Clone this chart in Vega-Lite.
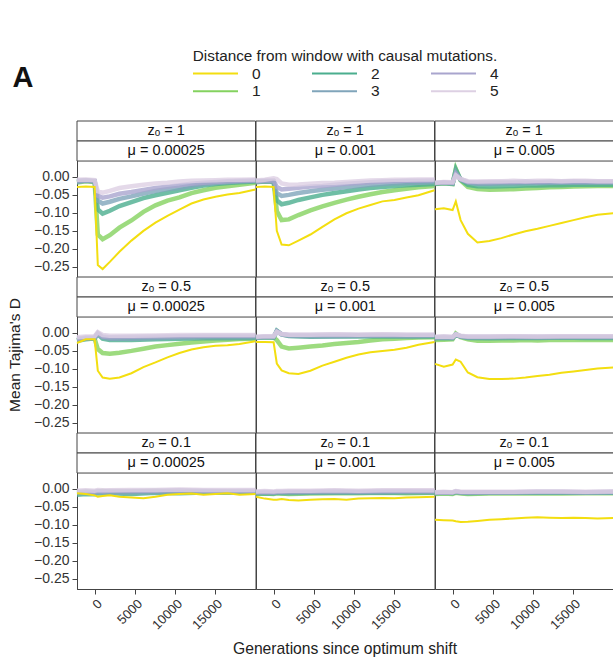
{
"$schema":"https://vega.github.io/schema/vega-lite/v6.json",
"padding":{"left":7,"top":49,"right":0,"bottom":0},
"bounds":"flush",
"title":{"text":"A","anchor":"start","frame":"bounds","fontSize":29,"fontWeight":"bold","font":"Liberation Sans","color":"#111","offset":4,"dy":48,"dx":5},
"data":{"values":[
{"z":1,"u":0.00025,"d":0,"g":-2300,"t":-0.028},{"z":1,"u":0.00025,"d":0,"g":-1200,"t":-0.027},{"z":1,"u":0.00025,"d":0,"g":-100,"t":-0.028},{"z":1,"u":0.00025,"d":0,"g":300,"t":-0.245},{"z":1,"u":0.00025,"d":0,"g":900,"t":-0.256},{"z":1,"u":0.00025,"d":0,"g":1800,"t":-0.236},{"z":1,"u":0.00025,"d":0,"g":3000,"t":-0.208},{"z":1,"u":0.00025,"d":0,"g":4500,"t":-0.177},{"z":1,"u":0.00025,"d":0,"g":6000,"t":-0.150},{"z":1,"u":0.00025,"d":0,"g":7500,"t":-0.127},{"z":1,"u":0.00025,"d":0,"g":9000,"t":-0.108},{"z":1,"u":0.00025,"d":0,"g":10500,"t":-0.091},{"z":1,"u":0.00025,"d":0,"g":12000,"t":-0.074},{"z":1,"u":0.00025,"d":0,"g":13500,"t":-0.063},{"z":1,"u":0.00025,"d":0,"g":15000,"t":-0.055},{"z":1,"u":0.00025,"d":0,"g":16500,"t":-0.049},{"z":1,"u":0.00025,"d":0,"g":18000,"t":-0.045},{"z":1,"u":0.00025,"d":0,"g":20000,"t":-0.035},
{"z":1,"u":0.00025,"d":1,"g":-2300,"t":-0.016},{"z":1,"u":0.00025,"d":1,"g":-1200,"t":-0.012},{"z":1,"u":0.00025,"d":1,"g":-100,"t":-0.014},{"z":1,"u":0.00025,"d":1,"g":300,"t":-0.160},{"z":1,"u":0.00025,"d":1,"g":900,"t":-0.173},{"z":1,"u":0.00025,"d":1,"g":1800,"t":-0.162},{"z":1,"u":0.00025,"d":1,"g":3000,"t":-0.141},{"z":1,"u":0.00025,"d":1,"g":4500,"t":-0.121},{"z":1,"u":0.00025,"d":1,"g":6000,"t":-0.097},{"z":1,"u":0.00025,"d":1,"g":7500,"t":-0.079},{"z":1,"u":0.00025,"d":1,"g":9000,"t":-0.066},{"z":1,"u":0.00025,"d":1,"g":10500,"t":-0.057},{"z":1,"u":0.00025,"d":1,"g":12000,"t":-0.045},{"z":1,"u":0.00025,"d":1,"g":13500,"t":-0.037},{"z":1,"u":0.00025,"d":1,"g":15000,"t":-0.030},{"z":1,"u":0.00025,"d":1,"g":16500,"t":-0.026},{"z":1,"u":0.00025,"d":1,"g":18000,"t":-0.022},{"z":1,"u":0.00025,"d":1,"g":20000,"t":-0.016},
{"z":1,"u":0.00025,"d":2,"g":-2300,"t":-0.013},{"z":1,"u":0.00025,"d":2,"g":-1200,"t":-0.010},{"z":1,"u":0.00025,"d":2,"g":-100,"t":-0.013},{"z":1,"u":0.00025,"d":2,"g":300,"t":-0.090},{"z":1,"u":0.00025,"d":2,"g":900,"t":-0.102},{"z":1,"u":0.00025,"d":2,"g":1800,"t":-0.094},{"z":1,"u":0.00025,"d":2,"g":3000,"t":-0.081},{"z":1,"u":0.00025,"d":2,"g":4500,"t":-0.070},{"z":1,"u":0.00025,"d":2,"g":6000,"t":-0.059},{"z":1,"u":0.00025,"d":2,"g":7500,"t":-0.051},{"z":1,"u":0.00025,"d":2,"g":9000,"t":-0.044},{"z":1,"u":0.00025,"d":2,"g":10500,"t":-0.037},{"z":1,"u":0.00025,"d":2,"g":12000,"t":-0.030},{"z":1,"u":0.00025,"d":2,"g":13500,"t":-0.024},{"z":1,"u":0.00025,"d":2,"g":15000,"t":-0.020},{"z":1,"u":0.00025,"d":2,"g":16500,"t":-0.017},{"z":1,"u":0.00025,"d":2,"g":18000,"t":-0.015},{"z":1,"u":0.00025,"d":2,"g":20000,"t":-0.013},
{"z":1,"u":0.00025,"d":3,"g":-2300,"t":-0.014},{"z":1,"u":0.00025,"d":3,"g":-1200,"t":-0.011},{"z":1,"u":0.00025,"d":3,"g":-100,"t":-0.012},{"z":1,"u":0.00025,"d":3,"g":300,"t":-0.066},{"z":1,"u":0.00025,"d":3,"g":900,"t":-0.074},{"z":1,"u":0.00025,"d":3,"g":1800,"t":-0.069},{"z":1,"u":0.00025,"d":3,"g":3000,"t":-0.061},{"z":1,"u":0.00025,"d":3,"g":4500,"t":-0.054},{"z":1,"u":0.00025,"d":3,"g":6000,"t":-0.046},{"z":1,"u":0.00025,"d":3,"g":7500,"t":-0.039},{"z":1,"u":0.00025,"d":3,"g":9000,"t":-0.034},{"z":1,"u":0.00025,"d":3,"g":10500,"t":-0.030},{"z":1,"u":0.00025,"d":3,"g":12000,"t":-0.025},{"z":1,"u":0.00025,"d":3,"g":13500,"t":-0.020},{"z":1,"u":0.00025,"d":3,"g":15000,"t":-0.017},{"z":1,"u":0.00025,"d":3,"g":16500,"t":-0.015},{"z":1,"u":0.00025,"d":3,"g":18000,"t":-0.013},{"z":1,"u":0.00025,"d":3,"g":20000,"t":-0.011},
{"z":1,"u":0.00025,"d":4,"g":-2300,"t":-0.010},{"z":1,"u":0.00025,"d":4,"g":-1200,"t":-0.009},{"z":1,"u":0.00025,"d":4,"g":-100,"t":-0.011},{"z":1,"u":0.00025,"d":4,"g":300,"t":-0.052},{"z":1,"u":0.00025,"d":4,"g":900,"t":-0.058},{"z":1,"u":0.00025,"d":4,"g":1800,"t":-0.054},{"z":1,"u":0.00025,"d":4,"g":3000,"t":-0.047},{"z":1,"u":0.00025,"d":4,"g":4500,"t":-0.042},{"z":1,"u":0.00025,"d":4,"g":6000,"t":-0.036},{"z":1,"u":0.00025,"d":4,"g":7500,"t":-0.031},{"z":1,"u":0.00025,"d":4,"g":9000,"t":-0.027},{"z":1,"u":0.00025,"d":4,"g":10500,"t":-0.023},{"z":1,"u":0.00025,"d":4,"g":12000,"t":-0.019},{"z":1,"u":0.00025,"d":4,"g":13500,"t":-0.016},{"z":1,"u":0.00025,"d":4,"g":15000,"t":-0.014},{"z":1,"u":0.00025,"d":4,"g":16500,"t":-0.012},{"z":1,"u":0.00025,"d":4,"g":18000,"t":-0.011},{"z":1,"u":0.00025,"d":4,"g":20000,"t":-0.010},
{"z":1,"u":0.00025,"d":5,"g":-2300,"t":-0.008},{"z":1,"u":0.00025,"d":5,"g":-1200,"t":-0.007},{"z":1,"u":0.00025,"d":5,"g":-100,"t":-0.009},{"z":1,"u":0.00025,"d":5,"g":300,"t":-0.040},{"z":1,"u":0.00025,"d":5,"g":900,"t":-0.044},{"z":1,"u":0.00025,"d":5,"g":1800,"t":-0.039},{"z":1,"u":0.00025,"d":5,"g":3000,"t":-0.031},{"z":1,"u":0.00025,"d":5,"g":4500,"t":-0.026},{"z":1,"u":0.00025,"d":5,"g":6000,"t":-0.022},{"z":1,"u":0.00025,"d":5,"g":7500,"t":-0.018},{"z":1,"u":0.00025,"d":5,"g":9000,"t":-0.016},{"z":1,"u":0.00025,"d":5,"g":10500,"t":-0.013},{"z":1,"u":0.00025,"d":5,"g":12000,"t":-0.011},{"z":1,"u":0.00025,"d":5,"g":13500,"t":-0.010},{"z":1,"u":0.00025,"d":5,"g":15000,"t":-0.009},{"z":1,"u":0.00025,"d":5,"g":16500,"t":-0.008},{"z":1,"u":0.00025,"d":5,"g":18000,"t":-0.008},{"z":1,"u":0.00025,"d":5,"g":20000,"t":-0.007},
{"z":1,"u":0.001,"d":0,"g":-2300,"t":-0.028},{"z":1,"u":0.001,"d":0,"g":-1200,"t":-0.027},{"z":1,"u":0.001,"d":0,"g":-100,"t":-0.028},{"z":1,"u":0.001,"d":0,"g":300,"t":-0.150},{"z":1,"u":0.001,"d":0,"g":900,"t":-0.188},{"z":1,"u":0.001,"d":0,"g":1800,"t":-0.190},{"z":1,"u":0.001,"d":0,"g":3000,"t":-0.177},{"z":1,"u":0.001,"d":0,"g":4500,"t":-0.160},{"z":1,"u":0.001,"d":0,"g":6000,"t":-0.139},{"z":1,"u":0.001,"d":0,"g":7500,"t":-0.118},{"z":1,"u":0.001,"d":0,"g":9000,"t":-0.101},{"z":1,"u":0.001,"d":0,"g":10500,"t":-0.088},{"z":1,"u":0.001,"d":0,"g":12000,"t":-0.078},{"z":1,"u":0.001,"d":0,"g":13500,"t":-0.068},{"z":1,"u":0.001,"d":0,"g":15000,"t":-0.064},{"z":1,"u":0.001,"d":0,"g":16500,"t":-0.057},{"z":1,"u":0.001,"d":0,"g":18000,"t":-0.051},{"z":1,"u":0.001,"d":0,"g":20000,"t":-0.037},
{"z":1,"u":0.001,"d":1,"g":-2300,"t":-0.015},{"z":1,"u":0.001,"d":1,"g":-1200,"t":-0.013},{"z":1,"u":0.001,"d":1,"g":-100,"t":-0.014},{"z":1,"u":0.001,"d":1,"g":300,"t":-0.095},{"z":1,"u":0.001,"d":1,"g":900,"t":-0.120},{"z":1,"u":0.001,"d":1,"g":1800,"t":-0.118},{"z":1,"u":0.001,"d":1,"g":3000,"t":-0.106},{"z":1,"u":0.001,"d":1,"g":4500,"t":-0.093},{"z":1,"u":0.001,"d":1,"g":6000,"t":-0.082},{"z":1,"u":0.001,"d":1,"g":7500,"t":-0.072},{"z":1,"u":0.001,"d":1,"g":9000,"t":-0.063},{"z":1,"u":0.001,"d":1,"g":10500,"t":-0.055},{"z":1,"u":0.001,"d":1,"g":12000,"t":-0.048},{"z":1,"u":0.001,"d":1,"g":13500,"t":-0.042},{"z":1,"u":0.001,"d":1,"g":15000,"t":-0.037},{"z":1,"u":0.001,"d":1,"g":16500,"t":-0.033},{"z":1,"u":0.001,"d":1,"g":18000,"t":-0.029},{"z":1,"u":0.001,"d":1,"g":20000,"t":-0.025},
{"z":1,"u":0.001,"d":2,"g":-2300,"t":-0.013},{"z":1,"u":0.001,"d":2,"g":-1200,"t":-0.012},{"z":1,"u":0.001,"d":2,"g":-100,"t":-0.013},{"z":1,"u":0.001,"d":2,"g":300,"t":-0.065},{"z":1,"u":0.001,"d":2,"g":900,"t":-0.076},{"z":1,"u":0.001,"d":2,"g":1800,"t":-0.072},{"z":1,"u":0.001,"d":2,"g":3000,"t":-0.064},{"z":1,"u":0.001,"d":2,"g":4500,"t":-0.057},{"z":1,"u":0.001,"d":2,"g":6000,"t":-0.050},{"z":1,"u":0.001,"d":2,"g":7500,"t":-0.045},{"z":1,"u":0.001,"d":2,"g":9000,"t":-0.040},{"z":1,"u":0.001,"d":2,"g":10500,"t":-0.035},{"z":1,"u":0.001,"d":2,"g":12000,"t":-0.031},{"z":1,"u":0.001,"d":2,"g":13500,"t":-0.028},{"z":1,"u":0.001,"d":2,"g":15000,"t":-0.025},{"z":1,"u":0.001,"d":2,"g":16500,"t":-0.023},{"z":1,"u":0.001,"d":2,"g":18000,"t":-0.022},{"z":1,"u":0.001,"d":2,"g":20000,"t":-0.020},
{"z":1,"u":0.001,"d":3,"g":-2300,"t":-0.014},{"z":1,"u":0.001,"d":3,"g":-1200,"t":-0.012},{"z":1,"u":0.001,"d":3,"g":-100,"t":-0.013},{"z":1,"u":0.001,"d":3,"g":300,"t":-0.045},{"z":1,"u":0.001,"d":3,"g":900,"t":-0.053},{"z":1,"u":0.001,"d":3,"g":1800,"t":-0.050},{"z":1,"u":0.001,"d":3,"g":3000,"t":-0.045},{"z":1,"u":0.001,"d":3,"g":4500,"t":-0.040},{"z":1,"u":0.001,"d":3,"g":6000,"t":-0.036},{"z":1,"u":0.001,"d":3,"g":7500,"t":-0.032},{"z":1,"u":0.001,"d":3,"g":9000,"t":-0.028},{"z":1,"u":0.001,"d":3,"g":10500,"t":-0.025},{"z":1,"u":0.001,"d":3,"g":12000,"t":-0.022},{"z":1,"u":0.001,"d":3,"g":13500,"t":-0.020},{"z":1,"u":0.001,"d":3,"g":15000,"t":-0.018},{"z":1,"u":0.001,"d":3,"g":16500,"t":-0.017},{"z":1,"u":0.001,"d":3,"g":18000,"t":-0.016},{"z":1,"u":0.001,"d":3,"g":20000,"t":-0.015},
{"z":1,"u":0.001,"d":4,"g":-2300,"t":-0.012},{"z":1,"u":0.001,"d":4,"g":-1200,"t":-0.010},{"z":1,"u":0.001,"d":4,"g":-100,"t":-0.010},{"z":1,"u":0.001,"d":4,"g":300,"t":-0.028},{"z":1,"u":0.001,"d":4,"g":900,"t":-0.035},{"z":1,"u":0.001,"d":4,"g":1800,"t":-0.033},{"z":1,"u":0.001,"d":4,"g":3000,"t":-0.030},{"z":1,"u":0.001,"d":4,"g":4500,"t":-0.027},{"z":1,"u":0.001,"d":4,"g":6000,"t":-0.025},{"z":1,"u":0.001,"d":4,"g":7500,"t":-0.022},{"z":1,"u":0.001,"d":4,"g":9000,"t":-0.019},{"z":1,"u":0.001,"d":4,"g":10500,"t":-0.017},{"z":1,"u":0.001,"d":4,"g":12000,"t":-0.015},{"z":1,"u":0.001,"d":4,"g":13500,"t":-0.013},{"z":1,"u":0.001,"d":4,"g":15000,"t":-0.012},{"z":1,"u":0.001,"d":4,"g":16500,"t":-0.011},{"z":1,"u":0.001,"d":4,"g":18000,"t":-0.011},{"z":1,"u":0.001,"d":4,"g":20000,"t":-0.010},
{"z":1,"u":0.001,"d":5,"g":-2300,"t":-0.010},{"z":1,"u":0.001,"d":5,"g":-1200,"t":-0.008},{"z":1,"u":0.001,"d":5,"g":-100,"t":-0.004},{"z":1,"u":0.001,"d":5,"g":300,"t":-0.006},{"z":1,"u":0.001,"d":5,"g":900,"t":-0.018},{"z":1,"u":0.001,"d":5,"g":1800,"t":-0.022},{"z":1,"u":0.001,"d":5,"g":3000,"t":-0.021},{"z":1,"u":0.001,"d":5,"g":4500,"t":-0.019},{"z":1,"u":0.001,"d":5,"g":6000,"t":-0.017},{"z":1,"u":0.001,"d":5,"g":7500,"t":-0.016},{"z":1,"u":0.001,"d":5,"g":9000,"t":-0.014},{"z":1,"u":0.001,"d":5,"g":10500,"t":-0.012},{"z":1,"u":0.001,"d":5,"g":12000,"t":-0.010},{"z":1,"u":0.001,"d":5,"g":13500,"t":-0.009},{"z":1,"u":0.001,"d":5,"g":15000,"t":-0.008},{"z":1,"u":0.001,"d":5,"g":16500,"t":-0.008},{"z":1,"u":0.001,"d":5,"g":18000,"t":-0.007},{"z":1,"u":0.001,"d":5,"g":20000,"t":-0.007},
{"z":1,"u":0.005,"d":0,"g":-2300,"t":-0.090},{"z":1,"u":0.005,"d":0,"g":-1200,"t":-0.087},{"z":1,"u":0.005,"d":0,"g":-100,"t":-0.092},{"z":1,"u":0.005,"d":0,"g":300,"t":-0.068},{"z":1,"u":0.005,"d":0,"g":900,"t":-0.120},{"z":1,"u":0.005,"d":0,"g":1800,"t":-0.158},{"z":1,"u":0.005,"d":0,"g":3000,"t":-0.182},{"z":1,"u":0.005,"d":0,"g":4500,"t":-0.178},{"z":1,"u":0.005,"d":0,"g":6000,"t":-0.170},{"z":1,"u":0.005,"d":0,"g":7500,"t":-0.160},{"z":1,"u":0.005,"d":0,"g":9000,"t":-0.151},{"z":1,"u":0.005,"d":0,"g":10500,"t":-0.144},{"z":1,"u":0.005,"d":0,"g":12000,"t":-0.136},{"z":1,"u":0.005,"d":0,"g":13500,"t":-0.128},{"z":1,"u":0.005,"d":0,"g":15000,"t":-0.120},{"z":1,"u":0.005,"d":0,"g":16500,"t":-0.112},{"z":1,"u":0.005,"d":0,"g":18000,"t":-0.105},{"z":1,"u":0.005,"d":0,"g":20000,"t":-0.101},
{"z":1,"u":0.005,"d":1,"g":-2300,"t":-0.020},{"z":1,"u":0.005,"d":1,"g":-1200,"t":-0.018},{"z":1,"u":0.005,"d":1,"g":-100,"t":-0.020},{"z":1,"u":0.005,"d":1,"g":300,"t":0.022},{"z":1,"u":0.005,"d":1,"g":900,"t":-0.010},{"z":1,"u":0.005,"d":1,"g":1800,"t":-0.028},{"z":1,"u":0.005,"d":1,"g":3000,"t":-0.034},{"z":1,"u":0.005,"d":1,"g":4500,"t":-0.036},{"z":1,"u":0.005,"d":1,"g":6000,"t":-0.035},{"z":1,"u":0.005,"d":1,"g":7500,"t":-0.034},{"z":1,"u":0.005,"d":1,"g":9000,"t":-0.032},{"z":1,"u":0.005,"d":1,"g":10500,"t":-0.031},{"z":1,"u":0.005,"d":1,"g":12000,"t":-0.029},{"z":1,"u":0.005,"d":1,"g":13500,"t":-0.028},{"z":1,"u":0.005,"d":1,"g":15000,"t":-0.027},{"z":1,"u":0.005,"d":1,"g":16500,"t":-0.026},{"z":1,"u":0.005,"d":1,"g":18000,"t":-0.025},{"z":1,"u":0.005,"d":1,"g":20000,"t":-0.025},
{"z":1,"u":0.005,"d":2,"g":-2300,"t":-0.019},{"z":1,"u":0.005,"d":2,"g":-1200,"t":-0.017},{"z":1,"u":0.005,"d":2,"g":-100,"t":-0.019},{"z":1,"u":0.005,"d":2,"g":300,"t":0.020},{"z":1,"u":0.005,"d":2,"g":900,"t":-0.008},{"z":1,"u":0.005,"d":2,"g":1800,"t":-0.022},{"z":1,"u":0.005,"d":2,"g":3000,"t":-0.026},{"z":1,"u":0.005,"d":2,"g":4500,"t":-0.027},{"z":1,"u":0.005,"d":2,"g":6000,"t":-0.026},{"z":1,"u":0.005,"d":2,"g":7500,"t":-0.025},{"z":1,"u":0.005,"d":2,"g":9000,"t":-0.024},{"z":1,"u":0.005,"d":2,"g":10500,"t":-0.024},{"z":1,"u":0.005,"d":2,"g":12000,"t":-0.023},{"z":1,"u":0.005,"d":2,"g":13500,"t":-0.023},{"z":1,"u":0.005,"d":2,"g":15000,"t":-0.022},{"z":1,"u":0.005,"d":2,"g":16500,"t":-0.022},{"z":1,"u":0.005,"d":2,"g":18000,"t":-0.022},{"z":1,"u":0.005,"d":2,"g":20000,"t":-0.022},
{"z":1,"u":0.005,"d":3,"g":-2300,"t":-0.018},{"z":1,"u":0.005,"d":3,"g":-1200,"t":-0.016},{"z":1,"u":0.005,"d":3,"g":-100,"t":-0.018},{"z":1,"u":0.005,"d":3,"g":300,"t":0.012},{"z":1,"u":0.005,"d":3,"g":900,"t":-0.008},{"z":1,"u":0.005,"d":3,"g":1800,"t":-0.016},{"z":1,"u":0.005,"d":3,"g":3000,"t":-0.019},{"z":1,"u":0.005,"d":3,"g":4500,"t":-0.019},{"z":1,"u":0.005,"d":3,"g":6000,"t":-0.018},{"z":1,"u":0.005,"d":3,"g":7500,"t":-0.018},{"z":1,"u":0.005,"d":3,"g":9000,"t":-0.017},{"z":1,"u":0.005,"d":3,"g":10500,"t":-0.017},{"z":1,"u":0.005,"d":3,"g":12000,"t":-0.017},{"z":1,"u":0.005,"d":3,"g":13500,"t":-0.016},{"z":1,"u":0.005,"d":3,"g":15000,"t":-0.016},{"z":1,"u":0.005,"d":3,"g":16500,"t":-0.016},{"z":1,"u":0.005,"d":3,"g":18000,"t":-0.016},{"z":1,"u":0.005,"d":3,"g":20000,"t":-0.016},
{"z":1,"u":0.005,"d":4,"g":-2300,"t":-0.017},{"z":1,"u":0.005,"d":4,"g":-1200,"t":-0.015},{"z":1,"u":0.005,"d":4,"g":-100,"t":-0.016},{"z":1,"u":0.005,"d":4,"g":300,"t":0.008},{"z":1,"u":0.005,"d":4,"g":900,"t":-0.006},{"z":1,"u":0.005,"d":4,"g":1800,"t":-0.014},{"z":1,"u":0.005,"d":4,"g":3000,"t":-0.015},{"z":1,"u":0.005,"d":4,"g":4500,"t":-0.015},{"z":1,"u":0.005,"d":4,"g":6000,"t":-0.014},{"z":1,"u":0.005,"d":4,"g":7500,"t":-0.014},{"z":1,"u":0.005,"d":4,"g":9000,"t":-0.013},{"z":1,"u":0.005,"d":4,"g":10500,"t":-0.014},{"z":1,"u":0.005,"d":4,"g":12000,"t":-0.013},{"z":1,"u":0.005,"d":4,"g":13500,"t":-0.013},{"z":1,"u":0.005,"d":4,"g":15000,"t":-0.012},{"z":1,"u":0.005,"d":4,"g":16500,"t":-0.013},{"z":1,"u":0.005,"d":4,"g":18000,"t":-0.013},{"z":1,"u":0.005,"d":4,"g":20000,"t":-0.013},
{"z":1,"u":0.005,"d":5,"g":-2300,"t":-0.016},{"z":1,"u":0.005,"d":5,"g":-1200,"t":-0.014},{"z":1,"u":0.005,"d":5,"g":-100,"t":-0.015},{"z":1,"u":0.005,"d":5,"g":300,"t":0.004},{"z":1,"u":0.005,"d":5,"g":900,"t":-0.006},{"z":1,"u":0.005,"d":5,"g":1800,"t":-0.012},{"z":1,"u":0.005,"d":5,"g":3000,"t":-0.013},{"z":1,"u":0.005,"d":5,"g":4500,"t":-0.012},{"z":1,"u":0.005,"d":5,"g":6000,"t":-0.012},{"z":1,"u":0.005,"d":5,"g":7500,"t":-0.011},{"z":1,"u":0.005,"d":5,"g":9000,"t":-0.012},{"z":1,"u":0.005,"d":5,"g":10500,"t":-0.011},{"z":1,"u":0.005,"d":5,"g":12000,"t":-0.011},{"z":1,"u":0.005,"d":5,"g":13500,"t":-0.012},{"z":1,"u":0.005,"d":5,"g":15000,"t":-0.011},{"z":1,"u":0.005,"d":5,"g":16500,"t":-0.011},{"z":1,"u":0.005,"d":5,"g":18000,"t":-0.012},{"z":1,"u":0.005,"d":5,"g":20000,"t":-0.012},
{"z":0.5,"u":0.00025,"d":0,"g":-2300,"t":-0.028},{"z":0.5,"u":0.00025,"d":0,"g":-1200,"t":-0.018},{"z":0.5,"u":0.00025,"d":0,"g":-100,"t":-0.018},{"z":0.5,"u":0.00025,"d":0,"g":300,"t":-0.105},{"z":0.5,"u":0.00025,"d":0,"g":900,"t":-0.124},{"z":0.5,"u":0.00025,"d":0,"g":1800,"t":-0.127},{"z":0.5,"u":0.00025,"d":0,"g":3000,"t":-0.124},{"z":0.5,"u":0.00025,"d":0,"g":4500,"t":-0.112},{"z":0.5,"u":0.00025,"d":0,"g":6000,"t":-0.095},{"z":0.5,"u":0.00025,"d":0,"g":7500,"t":-0.082},{"z":0.5,"u":0.00025,"d":0,"g":9000,"t":-0.068},{"z":0.5,"u":0.00025,"d":0,"g":10500,"t":-0.056},{"z":0.5,"u":0.00025,"d":0,"g":12000,"t":-0.046},{"z":0.5,"u":0.00025,"d":0,"g":13500,"t":-0.040},{"z":0.5,"u":0.00025,"d":0,"g":15000,"t":-0.036},{"z":0.5,"u":0.00025,"d":0,"g":16500,"t":-0.034},{"z":0.5,"u":0.00025,"d":0,"g":18000,"t":-0.031},{"z":0.5,"u":0.00025,"d":0,"g":20000,"t":-0.023},
{"z":0.5,"u":0.00025,"d":1,"g":-2300,"t":-0.020},{"z":0.5,"u":0.00025,"d":1,"g":-1200,"t":-0.015},{"z":0.5,"u":0.00025,"d":1,"g":-100,"t":-0.016},{"z":0.5,"u":0.00025,"d":1,"g":300,"t":-0.045},{"z":0.5,"u":0.00025,"d":1,"g":900,"t":-0.056},{"z":0.5,"u":0.00025,"d":1,"g":1800,"t":-0.058},{"z":0.5,"u":0.00025,"d":1,"g":3000,"t":-0.055},{"z":0.5,"u":0.00025,"d":1,"g":4500,"t":-0.050},{"z":0.5,"u":0.00025,"d":1,"g":6000,"t":-0.044},{"z":0.5,"u":0.00025,"d":1,"g":7500,"t":-0.038},{"z":0.5,"u":0.00025,"d":1,"g":9000,"t":-0.034},{"z":0.5,"u":0.00025,"d":1,"g":10500,"t":-0.030},{"z":0.5,"u":0.00025,"d":1,"g":12000,"t":-0.027},{"z":0.5,"u":0.00025,"d":1,"g":13500,"t":-0.024},{"z":0.5,"u":0.00025,"d":1,"g":15000,"t":-0.021},{"z":0.5,"u":0.00025,"d":1,"g":16500,"t":-0.019},{"z":0.5,"u":0.00025,"d":1,"g":18000,"t":-0.017},{"z":0.5,"u":0.00025,"d":1,"g":20000,"t":-0.016},
{"z":0.5,"u":0.00025,"d":2,"g":-2300,"t":-0.022},{"z":0.5,"u":0.00025,"d":2,"g":-1200,"t":-0.018},{"z":0.5,"u":0.00025,"d":2,"g":-100,"t":-0.015},{"z":0.5,"u":0.00025,"d":2,"g":300,"t":-0.004},{"z":0.5,"u":0.00025,"d":2,"g":900,"t":-0.016},{"z":0.5,"u":0.00025,"d":2,"g":1800,"t":-0.020},{"z":0.5,"u":0.00025,"d":2,"g":4500,"t":-0.020},{"z":0.5,"u":0.00025,"d":2,"g":7500,"t":-0.018},{"z":0.5,"u":0.00025,"d":2,"g":10500,"t":-0.016},{"z":0.5,"u":0.00025,"d":2,"g":13500,"t":-0.015},{"z":0.5,"u":0.00025,"d":2,"g":16500,"t":-0.015},{"z":0.5,"u":0.00025,"d":2,"g":20000,"t":-0.014},
{"z":0.5,"u":0.00025,"d":3,"g":-2300,"t":-0.020},{"z":0.5,"u":0.00025,"d":3,"g":-1200,"t":-0.016},{"z":0.5,"u":0.00025,"d":3,"g":-100,"t":-0.014},{"z":0.5,"u":0.00025,"d":3,"g":300,"t":-0.002},{"z":0.5,"u":0.00025,"d":3,"g":900,"t":-0.012},{"z":0.5,"u":0.00025,"d":3,"g":1800,"t":-0.016},{"z":0.5,"u":0.00025,"d":3,"g":4500,"t":-0.016},{"z":0.5,"u":0.00025,"d":3,"g":7500,"t":-0.014},{"z":0.5,"u":0.00025,"d":3,"g":10500,"t":-0.013},{"z":0.5,"u":0.00025,"d":3,"g":13500,"t":-0.012},{"z":0.5,"u":0.00025,"d":3,"g":16500,"t":-0.012},{"z":0.5,"u":0.00025,"d":3,"g":20000,"t":-0.012},
{"z":0.5,"u":0.00025,"d":4,"g":-2300,"t":-0.016},{"z":0.5,"u":0.00025,"d":4,"g":-1200,"t":-0.013},{"z":0.5,"u":0.00025,"d":4,"g":-100,"t":-0.012},{"z":0.5,"u":0.00025,"d":4,"g":300,"t":0.000},{"z":0.5,"u":0.00025,"d":4,"g":900,"t":-0.010},{"z":0.5,"u":0.00025,"d":4,"g":1800,"t":-0.012},{"z":0.5,"u":0.00025,"d":4,"g":4500,"t":-0.011},{"z":0.5,"u":0.00025,"d":4,"g":7500,"t":-0.010},{"z":0.5,"u":0.00025,"d":4,"g":10500,"t":-0.009},{"z":0.5,"u":0.00025,"d":4,"g":13500,"t":-0.008},{"z":0.5,"u":0.00025,"d":4,"g":16500,"t":-0.008},{"z":0.5,"u":0.00025,"d":4,"g":20000,"t":-0.008},
{"z":0.5,"u":0.00025,"d":5,"g":-2300,"t":-0.012},{"z":0.5,"u":0.00025,"d":5,"g":-1200,"t":-0.010},{"z":0.5,"u":0.00025,"d":5,"g":-100,"t":-0.009},{"z":0.5,"u":0.00025,"d":5,"g":300,"t":0.002},{"z":0.5,"u":0.00025,"d":5,"g":900,"t":-0.006},{"z":0.5,"u":0.00025,"d":5,"g":1800,"t":-0.008},{"z":0.5,"u":0.00025,"d":5,"g":4500,"t":-0.008},{"z":0.5,"u":0.00025,"d":5,"g":7500,"t":-0.007},{"z":0.5,"u":0.00025,"d":5,"g":10500,"t":-0.006},{"z":0.5,"u":0.00025,"d":5,"g":13500,"t":-0.006},{"z":0.5,"u":0.00025,"d":5,"g":16500,"t":-0.006},{"z":0.5,"u":0.00025,"d":5,"g":20000,"t":-0.006},
{"z":0.5,"u":0.001,"d":0,"g":-2300,"t":-0.025},{"z":0.5,"u":0.001,"d":0,"g":-1200,"t":-0.025},{"z":0.5,"u":0.001,"d":0,"g":-100,"t":-0.026},{"z":0.5,"u":0.001,"d":0,"g":300,"t":-0.085},{"z":0.5,"u":0.001,"d":0,"g":900,"t":-0.104},{"z":0.5,"u":0.001,"d":0,"g":1800,"t":-0.112},{"z":0.5,"u":0.001,"d":0,"g":3000,"t":-0.114},{"z":0.5,"u":0.001,"d":0,"g":4500,"t":-0.105},{"z":0.5,"u":0.001,"d":0,"g":6000,"t":-0.091},{"z":0.5,"u":0.001,"d":0,"g":7500,"t":-0.080},{"z":0.5,"u":0.001,"d":0,"g":9000,"t":-0.069},{"z":0.5,"u":0.001,"d":0,"g":10500,"t":-0.060},{"z":0.5,"u":0.001,"d":0,"g":12000,"t":-0.054},{"z":0.5,"u":0.001,"d":0,"g":13500,"t":-0.050},{"z":0.5,"u":0.001,"d":0,"g":15000,"t":-0.047},{"z":0.5,"u":0.001,"d":0,"g":16500,"t":-0.041},{"z":0.5,"u":0.001,"d":0,"g":18000,"t":-0.033},{"z":0.5,"u":0.001,"d":0,"g":20000,"t":-0.025},
{"z":0.5,"u":0.001,"d":1,"g":-2300,"t":-0.012},{"z":0.5,"u":0.001,"d":1,"g":-1200,"t":-0.012},{"z":0.5,"u":0.001,"d":1,"g":-100,"t":-0.013},{"z":0.5,"u":0.001,"d":1,"g":300,"t":-0.020},{"z":0.5,"u":0.001,"d":1,"g":900,"t":-0.038},{"z":0.5,"u":0.001,"d":1,"g":1800,"t":-0.043},{"z":0.5,"u":0.001,"d":1,"g":3000,"t":-0.041},{"z":0.5,"u":0.001,"d":1,"g":4500,"t":-0.038},{"z":0.5,"u":0.001,"d":1,"g":6000,"t":-0.035},{"z":0.5,"u":0.001,"d":1,"g":7500,"t":-0.031},{"z":0.5,"u":0.001,"d":1,"g":9000,"t":-0.028},{"z":0.5,"u":0.001,"d":1,"g":10500,"t":-0.025},{"z":0.5,"u":0.001,"d":1,"g":12000,"t":-0.021},{"z":0.5,"u":0.001,"d":1,"g":13500,"t":-0.018},{"z":0.5,"u":0.001,"d":1,"g":15000,"t":-0.016},{"z":0.5,"u":0.001,"d":1,"g":16500,"t":-0.014},{"z":0.5,"u":0.001,"d":1,"g":18000,"t":-0.013},{"z":0.5,"u":0.001,"d":1,"g":20000,"t":-0.012},
{"z":0.5,"u":0.001,"d":2,"g":-2300,"t":-0.014},{"z":0.5,"u":0.001,"d":2,"g":-1200,"t":-0.012},{"z":0.5,"u":0.001,"d":2,"g":-100,"t":-0.013},{"z":0.5,"u":0.001,"d":2,"g":300,"t":0.006},{"z":0.5,"u":0.001,"d":2,"g":900,"t":-0.004},{"z":0.5,"u":0.001,"d":2,"g":1800,"t":-0.009},{"z":0.5,"u":0.001,"d":2,"g":4500,"t":-0.011},{"z":0.5,"u":0.001,"d":2,"g":7500,"t":-0.010},{"z":0.5,"u":0.001,"d":2,"g":10500,"t":-0.010},{"z":0.5,"u":0.001,"d":2,"g":13500,"t":-0.009},{"z":0.5,"u":0.001,"d":2,"g":16500,"t":-0.010},{"z":0.5,"u":0.001,"d":2,"g":20000,"t":-0.010},
{"z":0.5,"u":0.001,"d":3,"g":-2300,"t":-0.013},{"z":0.5,"u":0.001,"d":3,"g":-1200,"t":-0.012},{"z":0.5,"u":0.001,"d":3,"g":-100,"t":-0.012},{"z":0.5,"u":0.001,"d":3,"g":300,"t":0.005},{"z":0.5,"u":0.001,"d":3,"g":900,"t":-0.004},{"z":0.5,"u":0.001,"d":3,"g":1800,"t":-0.008},{"z":0.5,"u":0.001,"d":3,"g":4500,"t":-0.009},{"z":0.5,"u":0.001,"d":3,"g":7500,"t":-0.009},{"z":0.5,"u":0.001,"d":3,"g":10500,"t":-0.008},{"z":0.5,"u":0.001,"d":3,"g":13500,"t":-0.008},{"z":0.5,"u":0.001,"d":3,"g":16500,"t":-0.009},{"z":0.5,"u":0.001,"d":3,"g":20000,"t":-0.008},
{"z":0.5,"u":0.001,"d":4,"g":-2300,"t":-0.012},{"z":0.5,"u":0.001,"d":4,"g":-1200,"t":-0.010},{"z":0.5,"u":0.001,"d":4,"g":-100,"t":-0.010},{"z":0.5,"u":0.001,"d":4,"g":300,"t":0.004},{"z":0.5,"u":0.001,"d":4,"g":900,"t":-0.003},{"z":0.5,"u":0.001,"d":4,"g":1800,"t":-0.006},{"z":0.5,"u":0.001,"d":4,"g":4500,"t":-0.006},{"z":0.5,"u":0.001,"d":4,"g":7500,"t":-0.005},{"z":0.5,"u":0.001,"d":4,"g":10500,"t":-0.006},{"z":0.5,"u":0.001,"d":4,"g":13500,"t":-0.005},{"z":0.5,"u":0.001,"d":4,"g":16500,"t":-0.006},{"z":0.5,"u":0.001,"d":4,"g":20000,"t":-0.006},
{"z":0.5,"u":0.001,"d":5,"g":-2300,"t":-0.011},{"z":0.5,"u":0.001,"d":5,"g":-1200,"t":-0.009},{"z":0.5,"u":0.001,"d":5,"g":-100,"t":-0.009},{"z":0.5,"u":0.001,"d":5,"g":300,"t":0.003},{"z":0.5,"u":0.001,"d":5,"g":900,"t":-0.003},{"z":0.5,"u":0.001,"d":5,"g":1800,"t":-0.005},{"z":0.5,"u":0.001,"d":5,"g":4500,"t":-0.005},{"z":0.5,"u":0.001,"d":5,"g":7500,"t":-0.004},{"z":0.5,"u":0.001,"d":5,"g":10500,"t":-0.005},{"z":0.5,"u":0.001,"d":5,"g":13500,"t":-0.004},{"z":0.5,"u":0.001,"d":5,"g":16500,"t":-0.005},{"z":0.5,"u":0.001,"d":5,"g":20000,"t":-0.005},
{"z":0.5,"u":0.005,"d":0,"g":-2300,"t":-0.086},{"z":0.5,"u":0.005,"d":0,"g":-1200,"t":-0.094},{"z":0.5,"u":0.005,"d":0,"g":-100,"t":-0.088},{"z":0.5,"u":0.005,"d":0,"g":300,"t":-0.074},{"z":0.5,"u":0.005,"d":0,"g":900,"t":-0.080},{"z":0.5,"u":0.005,"d":0,"g":1800,"t":-0.110},{"z":0.5,"u":0.005,"d":0,"g":3000,"t":-0.123},{"z":0.5,"u":0.005,"d":0,"g":4500,"t":-0.128},{"z":0.5,"u":0.005,"d":0,"g":6000,"t":-0.128},{"z":0.5,"u":0.005,"d":0,"g":7500,"t":-0.127},{"z":0.5,"u":0.005,"d":0,"g":9000,"t":-0.124},{"z":0.5,"u":0.005,"d":0,"g":10500,"t":-0.120},{"z":0.5,"u":0.005,"d":0,"g":12000,"t":-0.116},{"z":0.5,"u":0.005,"d":0,"g":13500,"t":-0.111},{"z":0.5,"u":0.005,"d":0,"g":15000,"t":-0.107},{"z":0.5,"u":0.005,"d":0,"g":16500,"t":-0.103},{"z":0.5,"u":0.005,"d":0,"g":18000,"t":-0.099},{"z":0.5,"u":0.005,"d":0,"g":20000,"t":-0.096},
{"z":0.5,"u":0.005,"d":1,"g":-2300,"t":-0.020},{"z":0.5,"u":0.005,"d":1,"g":-1200,"t":-0.019},{"z":0.5,"u":0.005,"d":1,"g":-100,"t":-0.018},{"z":0.5,"u":0.005,"d":1,"g":300,"t":-0.002},{"z":0.5,"u":0.005,"d":1,"g":900,"t":-0.012},{"z":0.5,"u":0.005,"d":1,"g":1800,"t":-0.018},{"z":0.5,"u":0.005,"d":1,"g":3000,"t":-0.022},{"z":0.5,"u":0.005,"d":1,"g":4500,"t":-0.022},{"z":0.5,"u":0.005,"d":1,"g":6000,"t":-0.021},{"z":0.5,"u":0.005,"d":1,"g":7500,"t":-0.021},{"z":0.5,"u":0.005,"d":1,"g":9000,"t":-0.020},{"z":0.5,"u":0.005,"d":1,"g":10500,"t":-0.021},{"z":0.5,"u":0.005,"d":1,"g":12000,"t":-0.020},{"z":0.5,"u":0.005,"d":1,"g":13500,"t":-0.020},{"z":0.5,"u":0.005,"d":1,"g":15000,"t":-0.019},{"z":0.5,"u":0.005,"d":1,"g":16500,"t":-0.020},{"z":0.5,"u":0.005,"d":1,"g":18000,"t":-0.020},{"z":0.5,"u":0.005,"d":1,"g":20000,"t":-0.020},
{"z":0.5,"u":0.005,"d":2,"g":-2300,"t":-0.015},{"z":0.5,"u":0.005,"d":2,"g":-1200,"t":-0.014},{"z":0.5,"u":0.005,"d":2,"g":-100,"t":-0.015},{"z":0.5,"u":0.005,"d":2,"g":300,"t":-0.004},{"z":0.5,"u":0.005,"d":2,"g":900,"t":-0.010},{"z":0.5,"u":0.005,"d":2,"g":1800,"t":-0.014},{"z":0.5,"u":0.005,"d":2,"g":4500,"t":-0.015},{"z":0.5,"u":0.005,"d":2,"g":7500,"t":-0.014},{"z":0.5,"u":0.005,"d":2,"g":10500,"t":-0.014},{"z":0.5,"u":0.005,"d":2,"g":13500,"t":-0.013},{"z":0.5,"u":0.005,"d":2,"g":16500,"t":-0.014},{"z":0.5,"u":0.005,"d":2,"g":20000,"t":-0.014},
{"z":0.5,"u":0.005,"d":3,"g":-2300,"t":-0.014},{"z":0.5,"u":0.005,"d":3,"g":-1200,"t":-0.013},{"z":0.5,"u":0.005,"d":3,"g":-100,"t":-0.014},{"z":0.5,"u":0.005,"d":3,"g":300,"t":-0.005},{"z":0.5,"u":0.005,"d":3,"g":900,"t":-0.010},{"z":0.5,"u":0.005,"d":3,"g":1800,"t":-0.013},{"z":0.5,"u":0.005,"d":3,"g":4500,"t":-0.013},{"z":0.5,"u":0.005,"d":3,"g":7500,"t":-0.012},{"z":0.5,"u":0.005,"d":3,"g":10500,"t":-0.013},{"z":0.5,"u":0.005,"d":3,"g":13500,"t":-0.012},{"z":0.5,"u":0.005,"d":3,"g":16500,"t":-0.012},{"z":0.5,"u":0.005,"d":3,"g":20000,"t":-0.012},
{"z":0.5,"u":0.005,"d":4,"g":-2300,"t":-0.012},{"z":0.5,"u":0.005,"d":4,"g":-1200,"t":-0.011},{"z":0.5,"u":0.005,"d":4,"g":-100,"t":-0.012},{"z":0.5,"u":0.005,"d":4,"g":300,"t":-0.004},{"z":0.5,"u":0.005,"d":4,"g":900,"t":-0.009},{"z":0.5,"u":0.005,"d":4,"g":1800,"t":-0.011},{"z":0.5,"u":0.005,"d":4,"g":4500,"t":-0.011},{"z":0.5,"u":0.005,"d":4,"g":7500,"t":-0.010},{"z":0.5,"u":0.005,"d":4,"g":10500,"t":-0.011},{"z":0.5,"u":0.005,"d":4,"g":13500,"t":-0.010},{"z":0.5,"u":0.005,"d":4,"g":16500,"t":-0.010},{"z":0.5,"u":0.005,"d":4,"g":20000,"t":-0.010},
{"z":0.5,"u":0.005,"d":5,"g":-2300,"t":-0.011},{"z":0.5,"u":0.005,"d":5,"g":-1200,"t":-0.010},{"z":0.5,"u":0.005,"d":5,"g":-100,"t":-0.011},{"z":0.5,"u":0.005,"d":5,"g":300,"t":-0.004},{"z":0.5,"u":0.005,"d":5,"g":900,"t":-0.008},{"z":0.5,"u":0.005,"d":5,"g":1800,"t":-0.010},{"z":0.5,"u":0.005,"d":5,"g":4500,"t":-0.010},{"z":0.5,"u":0.005,"d":5,"g":7500,"t":-0.009},{"z":0.5,"u":0.005,"d":5,"g":10500,"t":-0.010},{"z":0.5,"u":0.005,"d":5,"g":13500,"t":-0.009},{"z":0.5,"u":0.005,"d":5,"g":16500,"t":-0.009},{"z":0.5,"u":0.005,"d":5,"g":20000,"t":-0.009},
{"z":0.1,"u":0.00025,"d":0,"g":-2300,"t":-0.012},{"z":0.1,"u":0.00025,"d":0,"g":-1200,"t":-0.014},{"z":0.1,"u":0.00025,"d":0,"g":-100,"t":-0.018},{"z":0.1,"u":0.00025,"d":0,"g":300,"t":-0.022},{"z":0.1,"u":0.00025,"d":0,"g":900,"t":-0.020},{"z":0.1,"u":0.00025,"d":0,"g":1800,"t":-0.018},{"z":0.1,"u":0.00025,"d":0,"g":3000,"t":-0.022},{"z":0.1,"u":0.00025,"d":0,"g":4500,"t":-0.024},{"z":0.1,"u":0.00025,"d":0,"g":6000,"t":-0.026},{"z":0.1,"u":0.00025,"d":0,"g":7500,"t":-0.022},{"z":0.1,"u":0.00025,"d":0,"g":9000,"t":-0.016},{"z":0.1,"u":0.00025,"d":0,"g":10500,"t":-0.014},{"z":0.1,"u":0.00025,"d":0,"g":12000,"t":-0.013},{"z":0.1,"u":0.00025,"d":0,"g":13500,"t":-0.016},{"z":0.1,"u":0.00025,"d":0,"g":15000,"t":-0.014},{"z":0.1,"u":0.00025,"d":0,"g":16500,"t":-0.012},{"z":0.1,"u":0.00025,"d":0,"g":18000,"t":-0.016},{"z":0.1,"u":0.00025,"d":0,"g":20000,"t":-0.014},
{"z":0.1,"u":0.00025,"d":1,"g":-2300,"t":-0.010},{"z":0.1,"u":0.00025,"d":1,"g":-1200,"t":-0.008},{"z":0.1,"u":0.00025,"d":1,"g":-100,"t":-0.009},{"z":0.1,"u":0.00025,"d":1,"g":300,"t":-0.007},{"z":0.1,"u":0.00025,"d":1,"g":900,"t":-0.006},{"z":0.1,"u":0.00025,"d":1,"g":1800,"t":-0.008},{"z":0.1,"u":0.00025,"d":1,"g":4500,"t":-0.007},{"z":0.1,"u":0.00025,"d":1,"g":7500,"t":-0.006},{"z":0.1,"u":0.00025,"d":1,"g":10500,"t":-0.008},{"z":0.1,"u":0.00025,"d":1,"g":13500,"t":-0.007},{"z":0.1,"u":0.00025,"d":1,"g":16500,"t":-0.007},{"z":0.1,"u":0.00025,"d":1,"g":20000,"t":-0.008},
{"z":0.1,"u":0.00025,"d":2,"g":-2300,"t":-0.016},{"z":0.1,"u":0.00025,"d":2,"g":-1200,"t":-0.014},{"z":0.1,"u":0.00025,"d":2,"g":-100,"t":-0.015},{"z":0.1,"u":0.00025,"d":2,"g":300,"t":-0.012},{"z":0.1,"u":0.00025,"d":2,"g":900,"t":-0.013},{"z":0.1,"u":0.00025,"d":2,"g":1800,"t":-0.012},{"z":0.1,"u":0.00025,"d":2,"g":4500,"t":-0.014},{"z":0.1,"u":0.00025,"d":2,"g":7500,"t":-0.011},{"z":0.1,"u":0.00025,"d":2,"g":10500,"t":-0.012},{"z":0.1,"u":0.00025,"d":2,"g":13500,"t":-0.010},{"z":0.1,"u":0.00025,"d":2,"g":16500,"t":-0.011},{"z":0.1,"u":0.00025,"d":2,"g":20000,"t":-0.010},
{"z":0.1,"u":0.00025,"d":3,"g":-2300,"t":-0.012},{"z":0.1,"u":0.00025,"d":3,"g":-1200,"t":-0.011},{"z":0.1,"u":0.00025,"d":3,"g":-100,"t":-0.012},{"z":0.1,"u":0.00025,"d":3,"g":300,"t":-0.010},{"z":0.1,"u":0.00025,"d":3,"g":900,"t":-0.010},{"z":0.1,"u":0.00025,"d":3,"g":1800,"t":-0.011},{"z":0.1,"u":0.00025,"d":3,"g":4500,"t":-0.010},{"z":0.1,"u":0.00025,"d":3,"g":7500,"t":-0.009},{"z":0.1,"u":0.00025,"d":3,"g":10500,"t":-0.009},{"z":0.1,"u":0.00025,"d":3,"g":13500,"t":-0.008},{"z":0.1,"u":0.00025,"d":3,"g":16500,"t":-0.009},{"z":0.1,"u":0.00025,"d":3,"g":20000,"t":-0.009},
{"z":0.1,"u":0.00025,"d":4,"g":-2300,"t":-0.008},{"z":0.1,"u":0.00025,"d":4,"g":-1200,"t":-0.007},{"z":0.1,"u":0.00025,"d":4,"g":-100,"t":-0.008},{"z":0.1,"u":0.00025,"d":4,"g":300,"t":-0.006},{"z":0.1,"u":0.00025,"d":4,"g":900,"t":-0.007},{"z":0.1,"u":0.00025,"d":4,"g":1800,"t":-0.006},{"z":0.1,"u":0.00025,"d":4,"g":4500,"t":-0.006},{"z":0.1,"u":0.00025,"d":4,"g":7500,"t":-0.005},{"z":0.1,"u":0.00025,"d":4,"g":10500,"t":-0.004},{"z":0.1,"u":0.00025,"d":4,"g":13500,"t":-0.005},{"z":0.1,"u":0.00025,"d":4,"g":16500,"t":-0.006},{"z":0.1,"u":0.00025,"d":4,"g":20000,"t":-0.005},
{"z":0.1,"u":0.00025,"d":5,"g":-2300,"t":-0.005},{"z":0.1,"u":0.00025,"d":5,"g":-1200,"t":-0.004},{"z":0.1,"u":0.00025,"d":5,"g":-100,"t":-0.005},{"z":0.1,"u":0.00025,"d":5,"g":300,"t":-0.003},{"z":0.1,"u":0.00025,"d":5,"g":900,"t":-0.004},{"z":0.1,"u":0.00025,"d":5,"g":1800,"t":-0.004},{"z":0.1,"u":0.00025,"d":5,"g":4500,"t":-0.003},{"z":0.1,"u":0.00025,"d":5,"g":7500,"t":-0.003},{"z":0.1,"u":0.00025,"d":5,"g":10500,"t":-0.002},{"z":0.1,"u":0.00025,"d":5,"g":13500,"t":-0.003},{"z":0.1,"u":0.00025,"d":5,"g":16500,"t":-0.003},{"z":0.1,"u":0.00025,"d":5,"g":20000,"t":-0.003},
{"z":0.1,"u":0.001,"d":0,"g":-2300,"t":-0.022},{"z":0.1,"u":0.001,"d":0,"g":-1200,"t":-0.027},{"z":0.1,"u":0.001,"d":0,"g":-100,"t":-0.030},{"z":0.1,"u":0.001,"d":0,"g":300,"t":-0.030},{"z":0.1,"u":0.001,"d":0,"g":900,"t":-0.028},{"z":0.1,"u":0.001,"d":0,"g":1800,"t":-0.031},{"z":0.1,"u":0.001,"d":0,"g":3000,"t":-0.032},{"z":0.1,"u":0.001,"d":0,"g":4500,"t":-0.030},{"z":0.1,"u":0.001,"d":0,"g":6000,"t":-0.029},{"z":0.1,"u":0.001,"d":0,"g":7500,"t":-0.028},{"z":0.1,"u":0.001,"d":0,"g":9000,"t":-0.030},{"z":0.1,"u":0.001,"d":0,"g":10500,"t":-0.027},{"z":0.1,"u":0.001,"d":0,"g":12000,"t":-0.026},{"z":0.1,"u":0.001,"d":0,"g":13500,"t":-0.025},{"z":0.1,"u":0.001,"d":0,"g":15000,"t":-0.026},{"z":0.1,"u":0.001,"d":0,"g":16500,"t":-0.024},{"z":0.1,"u":0.001,"d":0,"g":18000,"t":-0.023},{"z":0.1,"u":0.001,"d":0,"g":20000,"t":-0.022},
{"z":0.1,"u":0.001,"d":1,"g":-2300,"t":-0.014},{"z":0.1,"u":0.001,"d":1,"g":-1200,"t":-0.013},{"z":0.1,"u":0.001,"d":1,"g":-100,"t":-0.014},{"z":0.1,"u":0.001,"d":1,"g":300,"t":-0.012},{"z":0.1,"u":0.001,"d":1,"g":900,"t":-0.013},{"z":0.1,"u":0.001,"d":1,"g":1800,"t":-0.014},{"z":0.1,"u":0.001,"d":1,"g":4500,"t":-0.013},{"z":0.1,"u":0.001,"d":1,"g":7500,"t":-0.012},{"z":0.1,"u":0.001,"d":1,"g":10500,"t":-0.012},{"z":0.1,"u":0.001,"d":1,"g":13500,"t":-0.011},{"z":0.1,"u":0.001,"d":1,"g":16500,"t":-0.012},{"z":0.1,"u":0.001,"d":1,"g":20000,"t":-0.011},
{"z":0.1,"u":0.001,"d":2,"g":-2300,"t":-0.013},{"z":0.1,"u":0.001,"d":2,"g":-1200,"t":-0.012},{"z":0.1,"u":0.001,"d":2,"g":-100,"t":-0.013},{"z":0.1,"u":0.001,"d":2,"g":300,"t":-0.011},{"z":0.1,"u":0.001,"d":2,"g":900,"t":-0.012},{"z":0.1,"u":0.001,"d":2,"g":1800,"t":-0.012},{"z":0.1,"u":0.001,"d":2,"g":4500,"t":-0.011},{"z":0.1,"u":0.001,"d":2,"g":7500,"t":-0.011},{"z":0.1,"u":0.001,"d":2,"g":10500,"t":-0.010},{"z":0.1,"u":0.001,"d":2,"g":13500,"t":-0.011},{"z":0.1,"u":0.001,"d":2,"g":16500,"t":-0.010},{"z":0.1,"u":0.001,"d":2,"g":20000,"t":-0.010},
{"z":0.1,"u":0.001,"d":3,"g":-2300,"t":-0.011},{"z":0.1,"u":0.001,"d":3,"g":-1200,"t":-0.010},{"z":0.1,"u":0.001,"d":3,"g":-100,"t":-0.011},{"z":0.1,"u":0.001,"d":3,"g":300,"t":-0.010},{"z":0.1,"u":0.001,"d":3,"g":900,"t":-0.010},{"z":0.1,"u":0.001,"d":3,"g":1800,"t":-0.010},{"z":0.1,"u":0.001,"d":3,"g":4500,"t":-0.009},{"z":0.1,"u":0.001,"d":3,"g":7500,"t":-0.009},{"z":0.1,"u":0.001,"d":3,"g":10500,"t":-0.009},{"z":0.1,"u":0.001,"d":3,"g":13500,"t":-0.009},{"z":0.1,"u":0.001,"d":3,"g":16500,"t":-0.008},{"z":0.1,"u":0.001,"d":3,"g":20000,"t":-0.009},
{"z":0.1,"u":0.001,"d":4,"g":-2300,"t":-0.009},{"z":0.1,"u":0.001,"d":4,"g":-1200,"t":-0.008},{"z":0.1,"u":0.001,"d":4,"g":-100,"t":-0.009},{"z":0.1,"u":0.001,"d":4,"g":300,"t":-0.008},{"z":0.1,"u":0.001,"d":4,"g":900,"t":-0.008},{"z":0.1,"u":0.001,"d":4,"g":1800,"t":-0.007},{"z":0.1,"u":0.001,"d":4,"g":4500,"t":-0.007},{"z":0.1,"u":0.001,"d":4,"g":7500,"t":-0.006},{"z":0.1,"u":0.001,"d":4,"g":10500,"t":-0.007},{"z":0.1,"u":0.001,"d":4,"g":13500,"t":-0.006},{"z":0.1,"u":0.001,"d":4,"g":16500,"t":-0.006},{"z":0.1,"u":0.001,"d":4,"g":20000,"t":-0.006},
{"z":0.1,"u":0.001,"d":5,"g":-2300,"t":-0.007},{"z":0.1,"u":0.001,"d":5,"g":-1200,"t":-0.006},{"z":0.1,"u":0.001,"d":5,"g":-100,"t":-0.007},{"z":0.1,"u":0.001,"d":5,"g":300,"t":-0.006},{"z":0.1,"u":0.001,"d":5,"g":900,"t":-0.006},{"z":0.1,"u":0.001,"d":5,"g":1800,"t":-0.005},{"z":0.1,"u":0.001,"d":5,"g":4500,"t":-0.005},{"z":0.1,"u":0.001,"d":5,"g":7500,"t":-0.004},{"z":0.1,"u":0.001,"d":5,"g":10500,"t":-0.005},{"z":0.1,"u":0.001,"d":5,"g":13500,"t":-0.004},{"z":0.1,"u":0.001,"d":5,"g":16500,"t":-0.004},{"z":0.1,"u":0.001,"d":5,"g":20000,"t":-0.004},
{"z":0.1,"u":0.005,"d":0,"g":-2300,"t":-0.086},{"z":0.1,"u":0.005,"d":0,"g":-1200,"t":-0.087},{"z":0.1,"u":0.005,"d":0,"g":-100,"t":-0.088},{"z":0.1,"u":0.005,"d":0,"g":300,"t":-0.090},{"z":0.1,"u":0.005,"d":0,"g":900,"t":-0.092},{"z":0.1,"u":0.005,"d":0,"g":1800,"t":-0.091},{"z":0.1,"u":0.005,"d":0,"g":3000,"t":-0.089},{"z":0.1,"u":0.005,"d":0,"g":4500,"t":-0.086},{"z":0.1,"u":0.005,"d":0,"g":6000,"t":-0.084},{"z":0.1,"u":0.005,"d":0,"g":7500,"t":-0.082},{"z":0.1,"u":0.005,"d":0,"g":9000,"t":-0.080},{"z":0.1,"u":0.005,"d":0,"g":10500,"t":-0.079},{"z":0.1,"u":0.005,"d":0,"g":12000,"t":-0.080},{"z":0.1,"u":0.005,"d":0,"g":13500,"t":-0.081},{"z":0.1,"u":0.005,"d":0,"g":15000,"t":-0.080},{"z":0.1,"u":0.005,"d":0,"g":16500,"t":-0.081},{"z":0.1,"u":0.005,"d":0,"g":18000,"t":-0.082},{"z":0.1,"u":0.005,"d":0,"g":20000,"t":-0.081},
{"z":0.1,"u":0.005,"d":1,"g":-2300,"t":-0.014},{"z":0.1,"u":0.005,"d":1,"g":-1200,"t":-0.013},{"z":0.1,"u":0.005,"d":1,"g":-100,"t":-0.014},{"z":0.1,"u":0.005,"d":1,"g":300,"t":-0.011},{"z":0.1,"u":0.005,"d":1,"g":900,"t":-0.013},{"z":0.1,"u":0.005,"d":1,"g":1800,"t":-0.014},{"z":0.1,"u":0.005,"d":1,"g":4500,"t":-0.013},{"z":0.1,"u":0.005,"d":1,"g":7500,"t":-0.013},{"z":0.1,"u":0.005,"d":1,"g":10500,"t":-0.012},{"z":0.1,"u":0.005,"d":1,"g":13500,"t":-0.013},{"z":0.1,"u":0.005,"d":1,"g":16500,"t":-0.012},{"z":0.1,"u":0.005,"d":1,"g":20000,"t":-0.012},
{"z":0.1,"u":0.005,"d":2,"g":-2300,"t":-0.012},{"z":0.1,"u":0.005,"d":2,"g":-1200,"t":-0.011},{"z":0.1,"u":0.005,"d":2,"g":-100,"t":-0.012},{"z":0.1,"u":0.005,"d":2,"g":300,"t":-0.009},{"z":0.1,"u":0.005,"d":2,"g":900,"t":-0.011},{"z":0.1,"u":0.005,"d":2,"g":1800,"t":-0.012},{"z":0.1,"u":0.005,"d":2,"g":4500,"t":-0.011},{"z":0.1,"u":0.005,"d":2,"g":7500,"t":-0.011},{"z":0.1,"u":0.005,"d":2,"g":10500,"t":-0.011},{"z":0.1,"u":0.005,"d":2,"g":13500,"t":-0.010},{"z":0.1,"u":0.005,"d":2,"g":16500,"t":-0.011},{"z":0.1,"u":0.005,"d":2,"g":20000,"t":-0.011},
{"z":0.1,"u":0.005,"d":3,"g":-2300,"t":-0.011},{"z":0.1,"u":0.005,"d":3,"g":-1200,"t":-0.010},{"z":0.1,"u":0.005,"d":3,"g":-100,"t":-0.011},{"z":0.1,"u":0.005,"d":3,"g":300,"t":-0.008},{"z":0.1,"u":0.005,"d":3,"g":900,"t":-0.010},{"z":0.1,"u":0.005,"d":3,"g":1800,"t":-0.011},{"z":0.1,"u":0.005,"d":3,"g":4500,"t":-0.010},{"z":0.1,"u":0.005,"d":3,"g":7500,"t":-0.010},{"z":0.1,"u":0.005,"d":3,"g":10500,"t":-0.010},{"z":0.1,"u":0.005,"d":3,"g":13500,"t":-0.009},{"z":0.1,"u":0.005,"d":3,"g":16500,"t":-0.010},{"z":0.1,"u":0.005,"d":3,"g":20000,"t":-0.010},
{"z":0.1,"u":0.005,"d":4,"g":-2300,"t":-0.010},{"z":0.1,"u":0.005,"d":4,"g":-1200,"t":-0.009},{"z":0.1,"u":0.005,"d":4,"g":-100,"t":-0.010},{"z":0.1,"u":0.005,"d":4,"g":300,"t":-0.007},{"z":0.1,"u":0.005,"d":4,"g":900,"t":-0.009},{"z":0.1,"u":0.005,"d":4,"g":1800,"t":-0.009},{"z":0.1,"u":0.005,"d":4,"g":4500,"t":-0.009},{"z":0.1,"u":0.005,"d":4,"g":7500,"t":-0.009},{"z":0.1,"u":0.005,"d":4,"g":10500,"t":-0.008},{"z":0.1,"u":0.005,"d":4,"g":13500,"t":-0.008},{"z":0.1,"u":0.005,"d":4,"g":16500,"t":-0.009},{"z":0.1,"u":0.005,"d":4,"g":20000,"t":-0.008},
{"z":0.1,"u":0.005,"d":5,"g":-2300,"t":-0.009},{"z":0.1,"u":0.005,"d":5,"g":-1200,"t":-0.008},{"z":0.1,"u":0.005,"d":5,"g":-100,"t":-0.009},{"z":0.1,"u":0.005,"d":5,"g":300,"t":-0.006},{"z":0.1,"u":0.005,"d":5,"g":900,"t":-0.008},{"z":0.1,"u":0.005,"d":5,"g":1800,"t":-0.008},{"z":0.1,"u":0.005,"d":5,"g":4500,"t":-0.008},{"z":0.1,"u":0.005,"d":5,"g":7500,"t":-0.008},{"z":0.1,"u":0.005,"d":5,"g":10500,"t":-0.007},{"z":0.1,"u":0.005,"d":5,"g":13500,"t":-0.007},{"z":0.1,"u":0.005,"d":5,"g":16500,"t":-0.008},{"z":0.1,"u":0.005,"d":5,"g":20000,"t":-0.007}
]},
"facet":{
 "row":{"field":"z","type":"ordinal","sort":"descending","header":{"labels":false,"title":"Mean Tajima's D","titleFont":"Liberation Sans","titleFontSize":15.5,"titleFontWeight":"normal","titleColor":"#222","titlePadding":0}},
 "column":{"field":"u","type":"ordinal","sort":"ascending","header":{"labels":false,"title":"Generations since optimum shift","titleOrient":"bottom","titleFont":"Liberation Sans","titleFontSize":15.7,"titleFontWeight":"normal","titleColor":"#222","titlePadding":0}}
},
"spacing":{"row":0,"column":0},
"spec":{
 "width":178.5,"height":156,
 "layer":[
  {"transform":[{"filter":"datum.d > 0"}],
   "mark":{"type":"line","strokeWidth":4.5,"opacity":0.8},
   "encoding":{
    "x":{"field":"g","type":"quantitative","title":null,"scale":{"domain":[-2300,20000],"nice":false,"zero":false},"axis":{"values":[0,5000,10000,15000],"format":"d","labelAngle":-45,"grid":false,"labelOverlap":false,"labelFlush":false,"labelBound":false}},
    "y":{"field":"t","type":"quantitative","title":null,"scale":{"domain":[-0.278,0.1552],"nice":false,"zero":false},"axis":{"values":[0,-0.05,-0.1,-0.15,-0.2,-0.25],"format":".2f","grid":false,"labelOverlap":false,"labelFlush":false,"labelBound":false}},
    "color":{"field":"d","type":"nominal","scale":{"domain":[0,1,2,3,4,5],"range":["#F3DE10","#84D25F","#4BAE8E","#80A5BA","#A9A5CE","#DDD0E3"]},
     "legend":{"orient":"none","legendX":115,"legendY":-72,"columns":3,"values":[0,1,2,3,4,5],"title":"Distance from window with causal mutations.","symbolType":"M-1,0H4.625","symbolSize":256,"symbolStrokeWidth":2,"symbolOpacity":1,"labelFontSize":15.5,"labelOffset":42,"titleFontSize":15.3,"titleFontWeight":"normal","titleAnchor":"middle","titleLimit":400,"columnPadding":47,"rowPadding":0,"titlePadding":0,"labelFont":"Liberation Sans","titleFont":"Liberation Sans","titleColor":"#222","labelColor":"#222"}}
   }},
  {"transform":[{"filter":"datum.d == 0"}],
   "mark":{"type":"line","strokeWidth":2},
   "encoding":{
    "x":{"field":"g","type":"quantitative","title":null,"axis":{"values":[0,5000,10000,15000],"format":"d","labelAngle":-45,"grid":false,"labelOverlap":false,"labelFlush":false,"labelBound":false}},
    "y":{"field":"t","type":"quantitative","title":null,"axis":{"values":[0,-0.05,-0.1,-0.15,-0.2,-0.25],"format":".2f","grid":false,"labelOverlap":false,"labelFlush":false,"labelBound":false}},
    "color":{"field":"d","type":"nominal"}
   }},
  {"transform":[{"aggregate":[{"op":"count","as":"n"}],"groupby":["z","u"]}],
   "mark":{"type":"rect","fill":"white","stroke":"#444","strokeWidth":1},
   "encoding":{"x":{"datum":-2300,"type":"quantitative","title":null,"axis":{"values":[0,5000,10000,15000],"format":"d","labelAngle":-45,"grid":false,"labelOverlap":false,"labelFlush":false,"labelBound":false}},"x2":{"datum":20000},"y":{"datum":0.0996,"type":"quantitative","title":null,"axis":{"values":[0,-0.05,-0.1,-0.15,-0.2,-0.25],"format":".2f","grid":false,"labelOverlap":false,"labelFlush":false,"labelBound":false}},"y2":{"datum":0.1552}}},
  {"transform":[{"aggregate":[{"op":"count","as":"n"}],"groupby":["z","u"]}],
   "mark":{"type":"rect","fill":"white","stroke":"#444","strokeWidth":1},
   "encoding":{"x":{"datum":-2300,"type":"quantitative","title":null,"axis":{"values":[0,5000,10000,15000],"format":"d","labelAngle":-45,"grid":false,"labelOverlap":false,"labelFlush":false,"labelBound":false}},"x2":{"datum":20000},"y":{"datum":0.044,"type":"quantitative","title":null,"axis":{"values":[0,-0.05,-0.1,-0.15,-0.2,-0.25],"format":".2f","grid":false,"labelOverlap":false,"labelFlush":false,"labelBound":false}},"y2":{"datum":0.0996}}},
  {"transform":[{"aggregate":[{"op":"count","as":"n"}],"groupby":["z","u"]},{"calculate":"'zₒ = ' + datum.z","as":"lab"}],
   "mark":{"type":"text","fontSize":14.5,"font":"Liberation Sans","color":"#111","baseline":"middle","align":"center"},
   "encoding":{"x":{"datum":8850,"type":"quantitative","title":null,"axis":{"values":[0,5000,10000,15000],"format":"d","labelAngle":-45,"grid":false,"labelOverlap":false,"labelFlush":false,"labelBound":false}},"y":{"datum":0.1274,"type":"quantitative","title":null,"axis":{"values":[0,-0.05,-0.1,-0.15,-0.2,-0.25],"format":".2f","grid":false,"labelOverlap":false,"labelFlush":false,"labelBound":false}},"text":{"field":"lab","type":"nominal"}}},
  {"transform":[{"aggregate":[{"op":"count","as":"n"}],"groupby":["z","u"]},{"calculate":"'μ = ' + datum.u","as":"lab"}],
   "mark":{"type":"text","fontSize":14.5,"font":"Liberation Sans","color":"#111","baseline":"middle","align":"center"},
   "encoding":{"x":{"datum":8850,"type":"quantitative","title":null,"axis":{"values":[0,5000,10000,15000],"format":"d","labelAngle":-45,"grid":false,"labelOverlap":false,"labelFlush":false,"labelBound":false}},"y":{"datum":0.0718,"type":"quantitative","title":null,"axis":{"values":[0,-0.05,-0.1,-0.15,-0.2,-0.25],"format":".2f","grid":false,"labelOverlap":false,"labelFlush":false,"labelBound":false}},"text":{"field":"lab","type":"nominal"}}}
 ]
},
"config":{
 "font":"Liberation Sans",
 "view":{"stroke":"#444","strokeWidth":1},
 "axis":{"labelFont":"Liberation Sans","labelFontSize":14,"labelColor":"#333","tickColor":"#444","domainColor":"#444","tickSize":5,"labelPadding":3,"labelOverlap":false},
 "axisY":{"labelOverlap":false},
 "axisX":{"labelFontSize":13,"labelOverlap":false}
}
}
